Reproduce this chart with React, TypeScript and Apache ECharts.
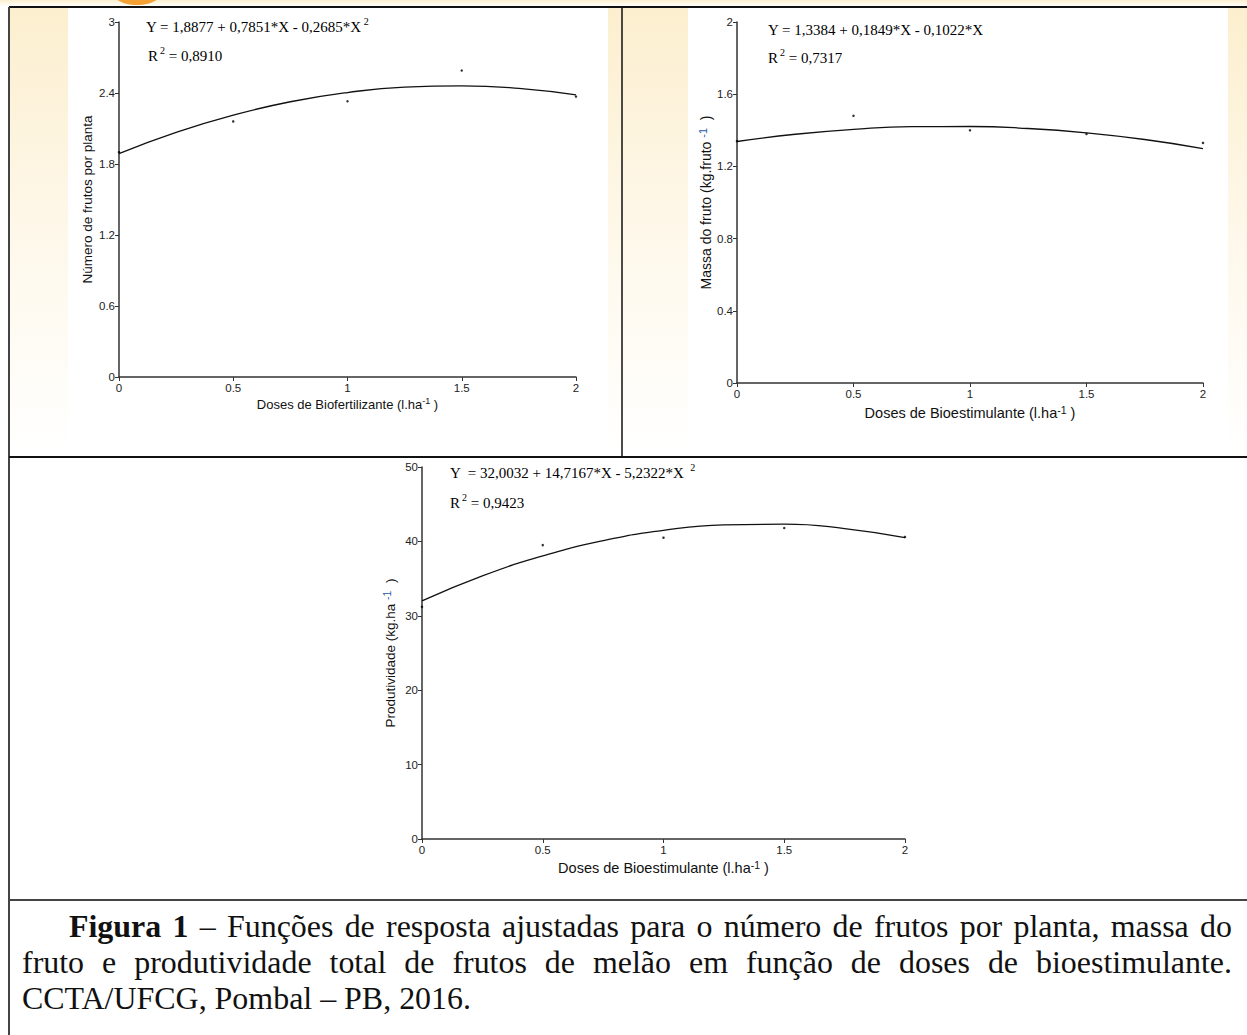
import React, { useEffect, useRef } from "react";
import * as echarts from "echarts";

// ---- data ----
const doses = [0, 0.5, 1, 1.5, 2];
const frutosObs = [1.9, 2.16, 2.33, 2.59, 2.37];
const massaObs = [1.34, 1.48, 1.4, 1.38, 1.33];
const prodObs = [31.2, 39.5, 40.5, 41.8, 40.6];

const curveX = [0, 0.25, 0.5, 0.75, 1, 1.25, 1.5, 1.75, 2];
const frutosFit = [1.888, 2.067, 2.213, 2.326, 2.404, 2.45, 2.461, 2.439, 2.384];
const massaFit = [1.338, 1.378, 1.405, 1.42, 1.421, 1.41, 1.386, 1.349, 1.299];
const prodFit = [32.0, 35.36, 38.05, 40.1, 41.49, 42.22, 42.31, 41.73, 40.51];

const xTicks = ["0", "0.5", "1", "1.5", "2"];
const yTicks1 = ["0", "0.6", "1.2", "1.8", "2.4", "3"];
const yTicks2 = ["0", "0.4", "0.8", "1.2", "1.6", "2"];
const yTicks3 = ["0", "10", "20", "30", "40", "50"];

const eq1 = "Y = 1,8877 + 0,7851*X - 0,2685*X";
const r1 = " = 0,8910";
const eq2 = "Y = 1,3384 + 0,1849*X - 0,1022*X";
const r2 = " = 0,7317";
const eq3 = "Y  = 32,0032 + 14,7167*X - 5,2322*X ";
const r3 = " = 0,9423";

const captionLines = [
  "– Funções de resposta ajustadas para o número de frutos por planta, massa do",
  "fruto e produtividade total de frutos de melão em função de doses de bioestimulante.",
  "CCTA/UFCG, Pombal – PB, 2016.",
];

const SANS = "Liberation Sans, Arial, sans-serif";
const SERIF = "Liberation Serif, Times New Roman, serif";

const zip = (xs: number[], ys: number[]) => xs.map((x, i) => [x, ys[i]]);

export default function App() {
  const ref = useRef<HTMLDivElement>(null);

  useEffect(() => {
    if (!ref.current) return;
    const chart = echarts.init(ref.current, null, { renderer: "svg" });

    const grids = [
      { left: 119, top: 22, width: 457, height: 355 },
      { left: 737, top: 22, width: 466, height: 361 },
      { left: 422, top: 467, width: 483, height: 372 },
    ];

    const mkX = (i: number, name: string, gap: number, fs: number) => ({
      type: "value",
      gridIndex: i,
      min: 0,
      max: 2,
      interval: 0.5,
      axisLine: { show: true, onZero: false, lineStyle: { color: "#333", width: 1.5 } },
      axisTick: { show: true, length: 4, lineStyle: { color: "#333" } },
      splitLine: { show: false },
      axisLabel: {
        color: "#222",
        fontSize: 11.5,
        fontFamily: SANS,
        margin: 5,
        formatter: (v: number) => xTicks[Math.round(v / 0.5)] ?? String(v),
      },
      name,
      nameLocation: "middle",
      nameGap: gap,
      nameTextStyle: {
        fontFamily: SANS,
        fontSize: fs,
        color: "#111",
        rich: {
          s: { fontSize: fs - 4, verticalAlign: "top", fontFamily: SANS, color: "#111", lineHeight: fs + 3 },
          n: { fontSize: fs, fontFamily: SANS, color: "#111", lineHeight: fs + 3 },
        },
      },
    });

    const mkY = (i: number, max: number, interval: number, ticks: string[], name: string, gap: number, fs: number) => ({
      type: "value",
      gridIndex: i,
      min: 0,
      max,
      interval,
      axisLine: { show: true, lineStyle: { color: "#333", width: 1.5 } },
      axisTick: { show: true, length: 4, lineStyle: { color: "#333" } },
      splitLine: { show: false },
      axisLabel: {
        color: "#222",
        fontSize: 11.5,
        fontFamily: SANS,
        margin: 4,
        formatter: (v: number) => ticks[Math.round(v / interval)] ?? String(v),
      },
      name,
      nameLocation: "middle",
      nameRotate: 90,
      nameGap: gap,
      nameTextStyle: {
        fontFamily: SANS,
        fontSize: fs,
        color: "#111",
        rich: {
          s: { fontSize: fs - 3, verticalAlign: "top", fontFamily: SANS, color: "#2a5aa8", lineHeight: fs + 4 },
          n: { fontSize: fs, fontFamily: SANS, color: "#111", lineHeight: fs + 4 },
        },
      },
    });

    const scatter = (i: number, ys: number[]) => ({
      type: "scatter",
      xAxisIndex: i,
      yAxisIndex: i,
      data: zip(doses, ys),
      symbolSize: 2.5,
      itemStyle: { color: "#000" },
      z: 3,
    });
    const fit = (i: number, ys: number[]) => ({
      type: "line",
      xAxisIndex: i,
      yAxisIndex: i,
      data: zip(curveX, ys),
      smooth: 0.5,
      showSymbol: false,
      symbol: "none",
      lineStyle: { color: "#111", width: 1.3 },
      z: 2,
    });

    const eqRich = {
      s: { fontSize: 10, verticalAlign: "top", fontFamily: SERIF, fill: "#000", lineHeight: 22, padding: [0, 0, 0, 2] },
    };
    const eqText = (x: number, y: number, text: string) => ({
      type: "text",
      x,
      y,
      style: {
        text,
        fontFamily: SERIF,
        fontSize: 15,
        fill: "#000",
        verticalAlign: "middle",
        lineHeight: 22,
        rich: eqRich,
      },
      z: 10,
    });

    const cream = (x0: number, y0: number, w: number, h: number) => ({
      type: "rect",
      shape: { x: x0, y: y0, width: w, height: h },
      style: {
        fill: new echarts.graphic.LinearGradient(0, 0, 0, 1, [
          { offset: 0, color: "#fcefcf" },
          { offset: 0.5, color: "#fef8ea" },
          { offset: 1, color: "#ffffff" },
        ]),
      },
      z: -10,
      silent: true,
    });

    const border = (x1: number, y1: number, x2: number, y2: number, color: string, w: number) => ({
      type: "line",
      shape: { x1, y1, x2, y2 },
      style: { stroke: color, lineWidth: w },
      z: 20,
      silent: true,
    });

    chart.setOption({
      animation: false,
      backgroundColor: "#ffffff",
      grid: grids,
      xAxis: [
        mkX(0, "{n|Doses de Biofertilizante (l.ha}{s|-1}{n| )}", 19, 13),
        mkX(1, "{n|Doses de Bioestimulante (l.ha}{s|-1}{n| )}", 21, 14.5),
        mkX(2, "{n|Doses de Bioestimulante (l.ha}{s|-1}{n| )}", 20, 14.5),
      ],
      yAxis: [
        mkY(0, 3, 0.6, yTicks1, "{n|Número de frutos por planta}", 23, 13.5),
        mkY(1, 2, 0.4, yTicks2, "{n|Massa do fruto (kg.fruto }{s|-1}{n|  )}", 22, 14),
        mkY(2, 50, 10, yTicks3, "{n|Produtividade (kg.ha }{s|-1}{n|  )}", 23, 13.5),
      ],
      series: [
        fit(0, frutosFit),
        scatter(0, frutosObs),
        fit(1, massaFit),
        scatter(1, massaObs),
        fit(2, prodFit),
        scatter(2, prodObs),
      ],
      graphic: [
        cream(0, 0, 1247, 7),
        cream(10, 8, 58, 448),
        cream(608, 8, 80, 448),
        cream(1228, 8, 19, 448),
        {
          type: "ellipse",
          shape: { cx: 137, cy: -7, rx: 24, ry: 12 },
          style: { fill: "#f4a236" },
          z: -9,
          silent: true,
        },
        border(9, 7, 1247, 7, "#111", 2),
        border(9, 7, 9, 1035, "#444", 2),
        border(622, 7, 622, 457, "#111", 1.5),
        border(9, 457, 1247, 457, "#111", 2.2),
        border(9, 900, 1247, 900, "#444", 2.2),
        eqText(146, 27, eq1 + "{s|2}"),
        eqText(148, 56, "R{s|2}" + r1),
        eqText(768, 30, eq2),
        eqText(768, 58, "R{s|2}" + r2),
        eqText(450, 473, eq3 + "{s|2}"),
        eqText(450, 503, "R{s|2}" + r3),
      ],
    });

    return () => chart.dispose();
  }, []);

  const scale = 1.03;
  const lineStyle = (justify: boolean, indent: number): React.CSSProperties => ({
    textAlign: justify ? "justify" : "left",
    textAlignLast: justify ? "justify" : "left",
    whiteSpace: "nowrap",
    paddingLeft: indent,
    height: 36,
  });

  return (
    <div
      style={{
        position: "absolute",
        left: 0,
        top: 0,
        width: 1247,
        height: 1035,
        background: "#fff",
        overflow: "hidden",
      }}
    >
      <div ref={ref} style={{ position: "absolute", left: 0, top: 0, width: 1247, height: 1035 }} />
      <div
        style={{
          position: "absolute",
          left: 22,
          top: 909,
          width: 1210 / scale,
          transform: `scaleX(${scale})`,
          transformOrigin: "0 0",
          fontFamily: SERIF,
          fontSize: 31,
          lineHeight: "36px",
          color: "#111",
        }}
      >
        <div style={lineStyle(true, 47 / scale)}>
          <b>Figura 1</b> {captionLines[0]}
        </div>
        <div style={lineStyle(true, 0)}>{captionLines[1]}</div>
        <div style={lineStyle(false, 0)}>{captionLines[2]}</div>
      </div>
    </div>
  );
}
